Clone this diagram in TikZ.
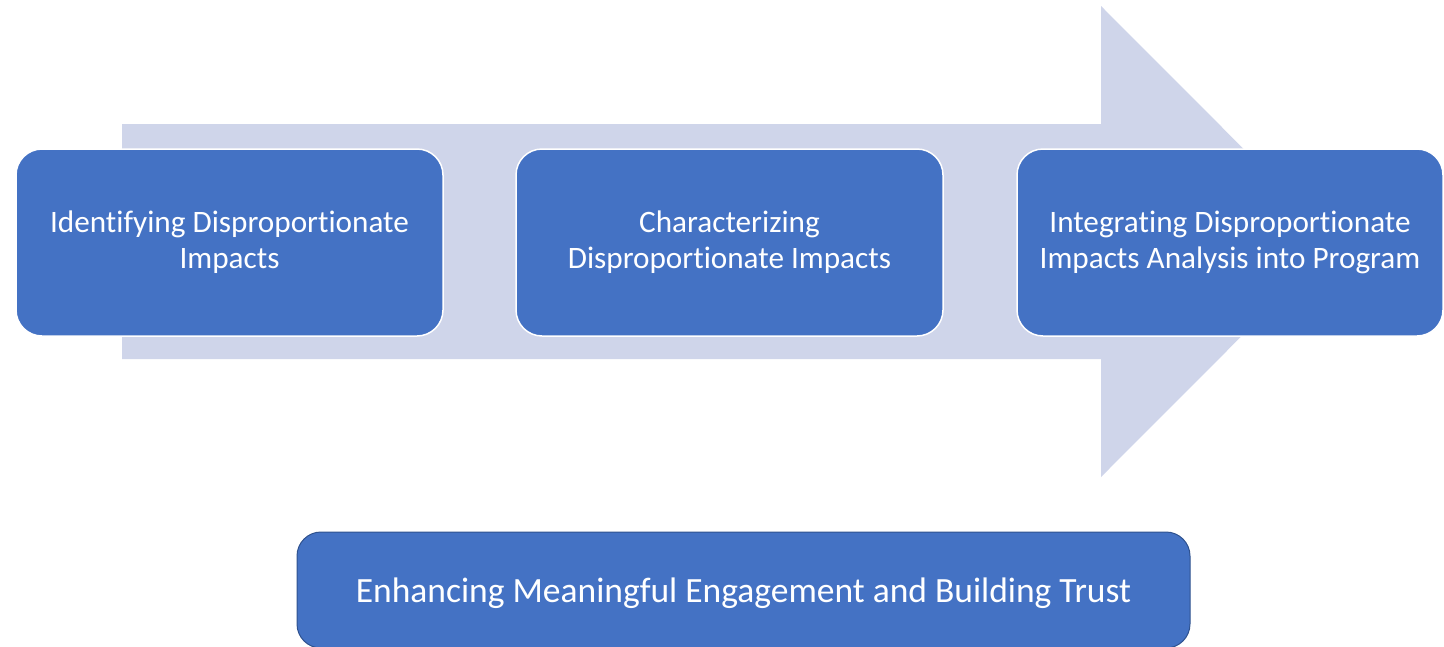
\documentclass[tikz,border=0pt]{standalone}
\usepackage{fontspec}
\setmainfont[Ligatures={NoCommon}]{Carlito}
\definecolor{boxblue}{HTML}{4472C4}
\definecolor{arrowfill}{HTML}{CFD5EA}
\definecolor{boxedge}{HTML}{2F528F}
\begin{document}
\begin{tikzpicture}[x=1pt,y=-1pt,
  stage/.style={draw=white, line width=1.5pt, fill=boxblue, rounded corners=26pt},
  stagetext/.style={text=white, align=center, font=\fontsize{31.2}{36}\selectfont},
  base/.style={draw=boxedge, line width=1pt, fill=boxblue, rounded corners=24pt},
  basetext/.style={text=white, font=\fontsize{35.5}{40}\selectfont}]
\useasboundingbox (0,0) rectangle (1444,646);
\fill[arrowfill] (122,124) -- (1101,124) -- (1101,6) -- (1336,241.5) -- (1101,477) -- (1101,359) -- (122,359) -- cycle;
\path[stage] (16,149) rectangle (443,336);
\node[stagetext] (s1) at (229.5,242.5) {Identifying Disproportionate\\Impacts};
\path[stage] (516,149) rectangle (943,336);
\node[stagetext] (s2) at (729.5,242.5) {Characterizing\\Disproportionate Impacts};
\path[stage] (1017,149) rectangle (1443,336);
\node[stagetext] (s3) at (1230,242.5) {Integrating Disproportionate\\Impacts Analysis into Program};
\path[base] (297,532) rectangle (1190,648);
\node[basetext] (b) at (743.5,593.5) {Enhancing Meaningful Engagement and Building Trust};
\end{tikzpicture}
\end{document}
